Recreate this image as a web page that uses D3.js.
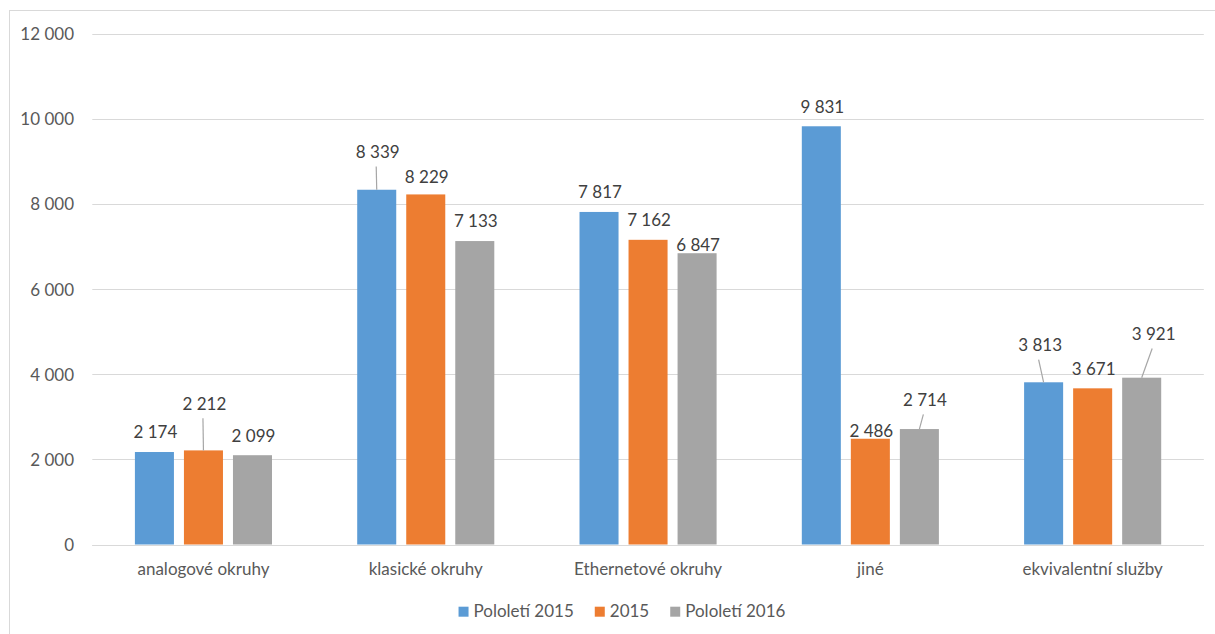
<!DOCTYPE html>
<html>
<head>
<meta charset="utf-8">
<script src="https://cdn.jsdelivr.net/npm/d3@7"></script>
<style>
  html, body { margin: 0; padding: 0; background: #fff; }
  svg { display: block; font-family: Lato, "Open Sans", sans-serif; }
</style>
</head>
<body>
<svg id="chart" width="1215" height="634"></svg>
<script>
// ---- data ----
const categories = ["analogové okruhy", "klasické okruhy", "Ethernetové okruhy", "jiné", "ekvivalentní služby"];
const seriesNames = ["Pololetí 2015", "2015", "Pololetí 2016"];
const pololeti2015 = [2174, 8339, 7817, 9831, 3813];
const rok2015      = [2212, 8229, 7162, 2486, 3671];
const pololeti2016 = [2099, 7133, 6847, 2714, 3921];
const yTicks = [0, 2000, 4000, 6000, 8000, 10000, 12000];

// ---- styles / layout ----
const colors = ["#5B9BD5", "#ED7D31", "#A5A5A5"];
const textColor = "#595959";
const gridColor = "#D9D9D9";
const axisFont = "17px";
// manual label nudges (pixels) as placed in the original, with optional leader lines
const labelNudge = {
  "0-1": {dx: 0, dy: -27, leader: true},
  "1-0": {dx: 0, dy: -18, leader: true},
  "1-1": {dx: 0, dy: 2.5},
  "2-2": {dx: 0, dy: 11.5},
  "3-1": {dx: 0, dy: 11.5},
  "3-2": {dx: 4.5, dy: -9.5, leader: true},
  "4-0": {dx: -4.5, dy: -17.5, leader: true},
  "4-2": {dx: 11, dy: -24, leader: true}
};

const seriesValues = [pololeti2015, rok2015, pololeti2016];
const fmt = v => d3.format(",")(v).replace(/,/g, " ");

const svg = d3.select("#chart");

// outer chart border
svg.append("rect")
  .attr("x", 9.5).attr("y", 10.5)
  .attr("width", 1215).attr("height", 640)
  .attr("fill", "none").attr("stroke", "#D9D9D9").attr("stroke-width", 1);

const plotLeft = 92.3, plotRight = 1203.8, plotTop = 34, plotBottom = 544.5;

const y = d3.scaleLinear().domain([0, 12000]).range([plotBottom, plotTop]);
const x = d3.scaleBand().domain(categories).range([plotLeft, plotRight]).paddingInner(0).paddingOuter(0);
const xs = d3.scaleBand().domain(d3.range(seriesNames.length)).range([0, x.bandwidth()])
  .paddingInner(0.204).paddingOuter(0.869);

// gridlines
svg.append("g").selectAll("line").data(yTicks).join("line")
  .attr("x1", plotLeft).attr("x2", plotRight)
  .attr("y1", d => Math.round(y(d)) + 0.5).attr("y2", d => Math.round(y(d)) + 0.5)
  .attr("stroke", gridColor).attr("stroke-width", 1);

// y axis labels
const yAxis = d3.axisLeft(y).tickValues(yTicks).tickFormat(fmt).tickSize(0).tickPadding(0);
const gy = svg.append("g").attr("transform", `translate(${74},0)`).call(yAxis);
gy.select(".domain").remove();
gy.selectAll("text")
  .attr("fill", textColor)
  .style("font-size", axisFont)
  .style("font-family", "Lato, sans-serif")
  .attr("dy", "0.34em");

// bars
const data = [];
categories.forEach((c, ci) => {
  seriesValues.forEach((vals, si) => {
    data.push({cat: c, ci, si, value: vals[ci]});
  });
});

svg.append("g").selectAll("rect").data(data).join("rect")
  .attr("x", d => x(d.cat) + xs(d.si))
  .attr("width", xs.bandwidth())
  .attr("y", d => y(d.value))
  .attr("height", d => y(0) - y(d.value))
  .attr("fill", d => colors[d.si]);

// x axis line (zero) drawn above bars
svg.append("line")
  .attr("x1", plotLeft).attr("x2", plotRight)
  .attr("y1", Math.round(y(0)) + 0.5).attr("y2", Math.round(y(0)) + 0.5)
  .attr("stroke", gridColor).attr("stroke-width", 1);

// category labels
const xAxis = d3.axisBottom(x).tickSize(0).tickPadding(0);
const gx = svg.append("g").attr("transform", `translate(0,${575})`).call(xAxis);
gx.select(".domain").remove();
gx.selectAll("text")
  .attr("fill", textColor)
  .attr("dy", 0).attr("y", 0)
  .style("font-size", axisFont)
  .style("font-family", "Lato, sans-serif");

// data labels
const labG = svg.append("g");
data.forEach(d => {
  const n = labelNudge[d.ci + "-" + d.si] || {dx: 0, dy: 0};
  const bx = x(d.cat) + xs(d.si) + xs.bandwidth() / 2;
  const by = y(d.value);
  const lx = bx + 1 + n.dx;
  const ly = by - 13.7 + n.dy;
  if (n.leader) {
    labG.append("line")
      .attr("x1", bx).attr("y1", by)
      .attr("x2", lx - 1.5).attr("y2", ly + 8.5)
      .attr("stroke", "#A6A6A6").attr("stroke-width", 1.2);
  }
  labG.append("text")
    .attr("x", lx).attr("y", ly)
    .attr("text-anchor", "middle")
    .attr("fill", "#404040")
    .style("font-size", "17px")
    .text(fmt(d.value));
});

// legend
const legend = svg.append("g");
const items = seriesNames.map((name, i) => {
  const g = legend.append("g");
  g.append("rect").attr("width", 10).attr("height", 10).attr("y", -10).attr("fill", colors[i]);
  const t = g.append("text").attr("x", 15).attr("y", 0)
    .attr("fill", textColor).style("font-size", axisFont).text(name);
  return {g, w: 15 + t.node().getComputedTextLength()};
});
const gap = 21;
const total = d3.sum(items, d => d.w) + gap * (items.length - 1);
let cx = 622 - total / 2;
items.forEach(it => {
  it.g.attr("transform", `translate(${cx},${616.7})`);
  cx += it.w + gap;
});
</script>
</body>
</html>
